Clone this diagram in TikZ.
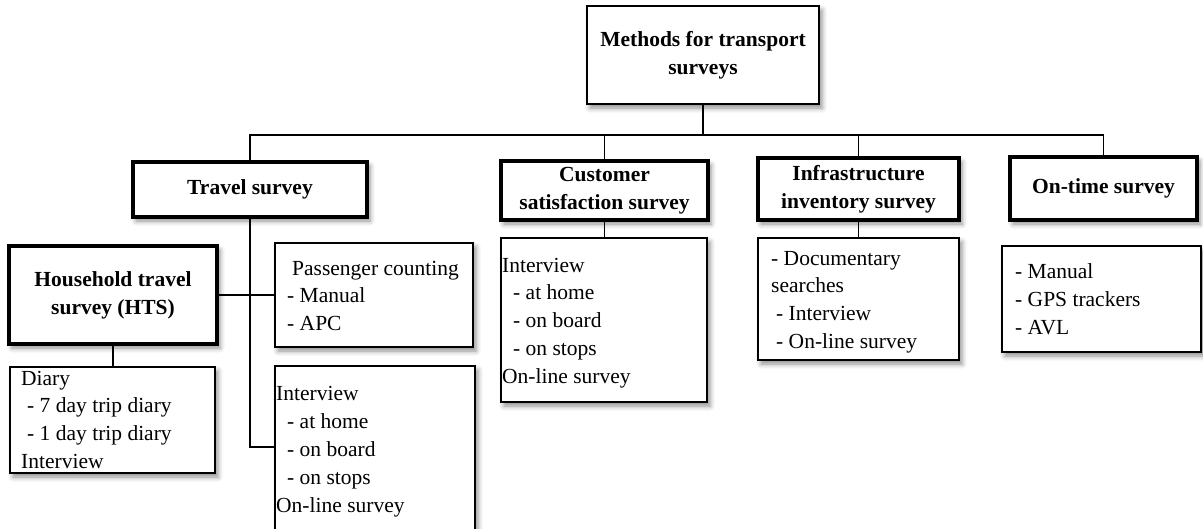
\documentclass[tikz,border=0pt]{standalone}
\usepackage{fontspec}
\setmainfont{Liberation Serif}
\usetikzlibrary{shadows.blur}
\begin{document}
\begin{tikzpicture}[x=1pt,y=-1pt,
  every node/.style={font=\fontsize{21.5}{28}\selectfont},
  boxshadow/.style={blur shadow={shadow xshift=3pt,shadow yshift=-4pt,shadow blur radius=5pt,shadow opacity=45}},
  thinbox/.style={draw=black,line width=1.4pt,fill=white,inner sep=0pt,boxshadow},
  thickbox/.style={draw=black,line width=3.6pt,fill=white,inner sep=0pt,align=center,font=\fontsize{21.5}{28}\selectfont\bfseries,boxshadow},
  textline/.style={anchor=base west,inner sep=0pt},
  link/.style={line width=1.6pt}]
\useasboundingbox (0,0) rectangle (1203,528);
\clip (0,0) rectangle (1203,528);

% main box and category boxes
\node[thinbox,align=center,font=\fontsize{21.5}{28}\selectfont\bfseries,minimum width=232pt,minimum height=98pt] (top) at (703,55) {Methods for transport\\surveys};
\node[thickbox,minimum width=234pt,minimum height=55pt] (travel) at (250,189.5) {Travel survey};
\node[thickbox,minimum width=207pt,minimum height=59pt] (cust) at (604.5,190.5) {Customer\\satisfaction survey};
\node[thickbox,minimum width=201pt,minimum height=62pt] (infra) at (858.5,189) {Infrastructure\\inventory survey};
\node[thickbox,minimum width=187pt,minimum height=63pt] (ontime) at (1103.5,188.5) {On-time survey};
\node[thickbox,minimum width=208pt,minimum height=98pt] (hts) at (113,295) {Household travel\\survey (HTS)};

% detail boxes
\node[thinbox,minimum width=205pt,minimum height=106pt] (diary) at (112.5,420) {};
\node[thinbox,minimum width=198pt,minimum height=104pt] (pass) at (374,295) {};
\node[thinbox,minimum width=200pt,minimum height=194pt] (tint) at (375,463) {};
\node[thinbox,minimum width=206pt,minimum height=164pt] (cdet) at (604,320) {};
\node[thinbox,minimum width=201pt,minimum height=122pt] (idet) at (858.5,299) {};
\node[thinbox,minimum width=199pt,minimum height=106pt] (odet) at (1101.5,299) {};

% texts of the detail boxes
\foreach \dx/\txt [count=\i] in {0/Diary,6/- 7 day trip diary,6/- 1 day trip diary,0/Interview}
  \node[textline] (diary-\i) at (21+\dx,385+27.8*\i-27.8) {\txt};
\foreach \dx/\txt [count=\i] in {5/Passenger counting,0/- Manual,0/- APC}
  \node[textline] (pass-\i) at (287+\dx,275+27.7*\i-27.7) {\txt};
\foreach \dx/\txt [count=\i] in {0/Interview,11/- at home,11/- on board,11/- on stops,0/On-line survey}
  \node[textline] (tint-\i) at (276+\dx,400+28*\i-28) {\txt};
\foreach \dx/\txt [count=\i] in {0/Interview,11/- at home,11/- on board,11/- on stops,0/On-line survey}
  \node[textline] (cdet-\i) at (502+\dx,272+27.8*\i-27.8) {\txt};
\foreach \dx/\txt [count=\i] in {0/- Documentary,0/searches,5/- Interview,5/- On-line survey}
  \node[textline] (idet-\i) at (771+\dx,265+27.7*\i-27.7) {\txt};
\foreach \dx/\txt [count=\i] in {0/- Manual,0/- GPS trackers,0/- AVL}
  \node[textline] (odet-\i) at (1015+\dx,278+28*\i-28) {\txt};

% connectors
\coordinate (bus) at (703,135);
\coordinate (tj) at (275,447);
\draw[link] (top.south) -- (bus);
\draw[link] (bus) -| (travel.north);
\draw[link] (bus) -| (cust.north);
\draw[link] (bus) -| (infra.north);
\draw[link] (bus) -| (ontime.north);
\draw[link] (travel.south) |- (tj);
\draw[link] (hts.east) -- (pass.west);
\draw[link] (hts.south) -- (hts.south |- diary.north);
\draw[link] (cust.south) -- (cust.south |- cdet.north);
\draw[link] (infra.south) -- (infra.south |- idet.north);
\end{tikzpicture}
\end{document}
